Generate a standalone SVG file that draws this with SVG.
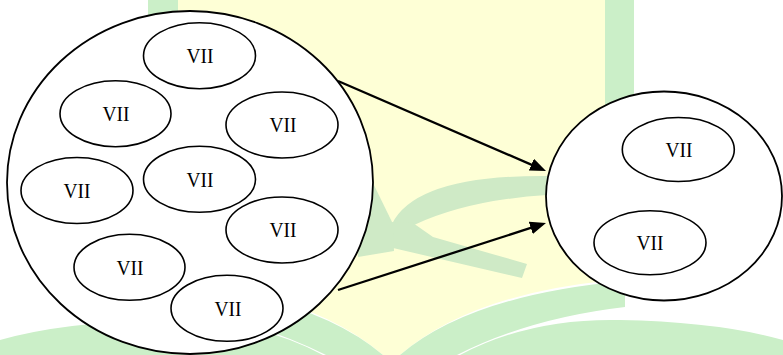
<svg xmlns="http://www.w3.org/2000/svg" width="783" height="355" viewBox="0 0 783 355">
<style>
.bg{fill:#ffffff}
.yel{fill:#feffd6}
.grn{fill:#cbefc8}
.leaf{fill:#cfeac6}
.outer{fill:#ffffff;stroke:#000;stroke-width:1.8}
.node ellipse{fill:#ffffff;stroke:#000;stroke-width:1.6}
.node text{font-family:"Liberation Serif","Times New Roman",serif;font-size:19.5px;fill:#000;text-anchor:middle}
.conn{fill:none;stroke:#000;stroke-width:2.3;marker-end:url(#ah)}
</style>
<defs>
<marker id="ah" viewBox="0 0 16 13" refX="8" refY="6.5" markerWidth="16" markerHeight="13" markerUnits="userSpaceOnUse" orient="auto">
<path d="M0,0 L16,6.5 L0,13 Z" fill="#000"/>
</marker>
</defs>
<rect class="bg" x="0" y="0" width="783" height="355"/>
<g id="watermark">
<rect class="grn" x="148" y="0" width="30" height="290"/>
<rect class="grn" x="605" y="0" width="29" height="290"/>
<path class="yel" d="M178,0 H605 V281 Q470,295 400,355 H383 Q313,295 178,281 Z"/>
<path class="grn" d="M400,355 Q470,295 625,281 V307 Q530,318 457,355 Z"/>
<path class="grn" d="M383,355 Q313,295 158,281 V307 Q253,318 326,355 Z"/>
<path class="grn" d="M460,355 Q530,318 620,320 Q720,322 783,340 V355 Z"/>
<path class="grn" d="M323,355 Q253,318 163,320 Q63,322 0,340 V355 Z"/>
<path class="leaf" d="M392,224 Q416,175 547,176 L547,195 Q468,200 414,225 Z"/>
<path class="leaf" d="M391,222 L413,223 L433,237 L527,264 L522,278 L393,248 Z"/>
<path class="leaf" d="M360,182 L371,179 L393,224 L394,251 L358,257 Z"/>
</g>
<g id="groupA">
<ellipse class="outer" cx="190" cy="182.5" rx="183" ry="171.5"/>
</g>
<g id="groupB">
<ellipse class="outer" cx="664" cy="196" rx="118" ry="104.5"/>
</g>
<g id="connectors">
<path class="conn" d="M338,81 L538.66,167.82"/>
<path class="conn" d="M338,290 L538.38,225.45"/>
</g>
<g id="n1" class="node"><ellipse cx="199.5" cy="55.7" rx="56" ry="33"/><text transform="translate(200,63) scale(1,1.1)">VII</text></g>
<g id="n2" class="node"><ellipse cx="115.5" cy="113.7" rx="55.5" ry="33"/><text transform="translate(116,121) scale(1,1.1)">VII</text></g>
<g id="n3" class="node"><ellipse cx="282" cy="125" rx="56" ry="33"/><text transform="translate(283,132) scale(1,1.1)">VII</text></g>
<g id="n4" class="node"><ellipse cx="77" cy="190.5" rx="56" ry="33"/><text transform="translate(77,198) scale(1,1.1)">VII</text></g>
<g id="n5" class="node"><ellipse cx="199.5" cy="179.3" rx="56" ry="33"/><text transform="translate(200,186.5) scale(1,1.1)">VII</text></g>
<g id="n6" class="node"><ellipse cx="282" cy="230" rx="56" ry="33"/><text transform="translate(283,237) scale(1,1.1)">VII</text></g>
<g id="n7" class="node"><ellipse cx="129.5" cy="267.3" rx="55.5" ry="33"/><text transform="translate(130,274.5) scale(1,1.1)">VII</text></g>
<g id="n8" class="node"><ellipse cx="227" cy="308.3" rx="56" ry="33"/><text transform="translate(228,315.5) scale(1,1.1)">VII</text></g>
<g id="n9" class="node"><ellipse cx="678.3" cy="149.5" rx="56" ry="32"/><text transform="translate(679,156.5) scale(1,1.1)">VII</text></g>
<g id="n10" class="node"><ellipse cx="650" cy="242.8" rx="56" ry="32"/><text transform="translate(650,250) scale(1,1.1)">VII</text></g>
</svg>
